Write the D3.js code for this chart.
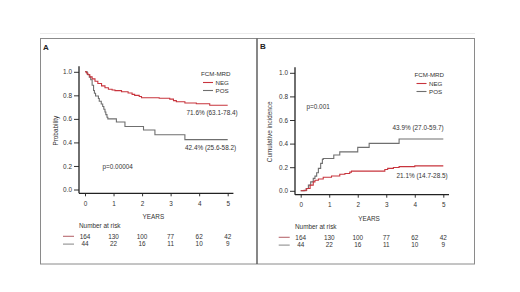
<!DOCTYPE html>
<html>
<head>
<meta charset="utf-8">
<script src="https://cdn.jsdelivr.net/npm/d3@7"></script>
<style>
  body { margin: 0; background: #fff; }
  svg text { font-family: "Liberation Sans", Arial, sans-serif; fill: #333; }
</style>
</head>
<body>
<div id="chart"></div>
<script>
// data
var years = [0, 1, 2, 3, 4, 5];
var yTicks = [0, 0.2, 0.4, 0.6, 0.8, 1.0];
var riskNeg = [164, 130, 100, 77, 62, 42];
var riskPos = [44, 22, 16, 11, 10, 9];

// panel A: probability (KM), [years, value]
var survNeg = [
  [0, 1], [0.05, 0.99], [0.1, 0.975], [0.17, 0.957], [0.25, 0.94], [0.35, 0.92],
  [0.45, 0.9], [0.58, 0.88], [0.7, 0.865], [0.82, 0.852], [0.95, 0.845], [1.05, 0.84],
  [1.28, 0.83], [1.51, 0.82], [1.65, 0.808], [1.74, 0.8], [1.9, 0.79], [1.98, 0.78],
  [2.6, 0.775], [2.97, 0.768], [3.1, 0.755], [3.2, 0.745], [3.5, 0.735], [3.9, 0.728],
  [4.37, 0.716], [5.0, 0.716]
];
var survPos = [
  [0, 1], [0.08, 0.977], [0.15, 0.955], [0.2, 0.932], [0.25, 0.886], [0.3, 0.841],
  [0.33, 0.818], [0.37, 0.795], [0.47, 0.773], [0.5, 0.75], [0.57, 0.727], [0.62, 0.705],
  [0.66, 0.682], [0.7, 0.659], [0.73, 0.636], [0.77, 0.614], [0.8, 0.6], [1.1, 0.573],
  [1.4, 0.535], [2.05, 0.505], [2.45, 0.465], [3.5, 0.424], [5.0, 0.424]
];

// panel B: cumulative incidence, [years, value]
var cumNeg = [
  [0, 0], [0.12, 0.005], [0.21, 0.02], [0.33, 0.048], [0.44, 0.076], [0.5, 0.09],
  [0.62, 0.1], [0.79, 0.115], [1.08, 0.125], [1.37, 0.14], [1.55, 0.147], [1.72, 0.158],
  [1.78, 0.167], [2.95, 0.18], [3.05, 0.19], [3.25, 0.198], [3.45, 0.205], [4.0, 0.211],
  [5.0, 0.211]
];
var cumPos = [
  [0, 0], [0.19, 0.02], [0.27, 0.048], [0.35, 0.076], [0.44, 0.105], [0.5, 0.124],
  [0.56, 0.153], [0.62, 0.19], [0.7, 0.232], [0.76, 0.266], [0.79, 0.274], [1.16, 0.303],
  [1.37, 0.33], [2.0, 0.368], [2.4, 0.402], [3.45, 0.439], [5.0, 0.439]
];

var colNeg = "#c8343d";
var colPos = "#6f6f6f";

var svg = d3
  .select("#chart")
  .append("svg")
  .attr("width", 520)
  .attr("height", 292);

// faint outer line on top, then the two framed panels
svg.append("line")
  .attr("x1", 40).attr("x2", 475).attr("y1", 33.5).attr("y2", 33.5)
  .attr("stroke", "#ececec");

svg.append("rect")
  .attr("x", 40.5).attr("y", 38.5).attr("width", 434).attr("height", 225.5)
  .attr("fill", "none").attr("stroke", "#8a8a8a");

svg.append("line")
  .attr("x1", 257).attr("x2", 257).attr("y1", 38.5).attr("y2", 264)
  .attr("stroke", "#555").attr("stroke-width", 1.4);

/**
 * draws one panel: axes, curves, legend, labels and the number-at-risk table
 */
function DrawPanel(p) {
  var g = svg.append("g");
  var xScale = d3.scaleLinear().domain([0, 5]).range([p.x0, p.x1]);
  var yScale = d3.scaleLinear().domain([0, 1]).range([p.y0, p.y1]);

  g.append("text")
    .attr("x", p.letterX).attr("y", p.letterY)
    .style("font-size", "8px").style("font-weight", "bold")
    .style("fill", "#222")
    .text(p.letter);

  // y axis
  var yAxis = g.append("g")
    .attr("transform", "translate(" + p.axisX + ",0)")
    .call(d3.axisLeft(yScale).tickValues(yTicks).tickFormat(d3.format(".1f")).tickSize(5).tickPadding(2));
  yAxis.select(".domain").remove();
  g.append("line")
    .attr("x1", p.axisX).attr("x2", p.axisX)
    .attr("y1", p.y1 - 5.5).attr("y2", p.axisY)
    .attr("stroke", "#222").attr("stroke-width", 1.3);

  // x axis
  var xAxis = g.append("g")
    .attr("transform", "translate(0," + p.axisY + ")")
    .call(d3.axisBottom(xScale).tickValues(years).tickFormat(d3.format("d")).tickSize(3).tickPadding(5));
  xAxis.select(".domain").remove();
  g.append("line")
    .attr("x1", p.axisX).attr("x2", xScale(5.2))
    .attr("y1", p.axisY).attr("y2", p.axisY)
    .attr("stroke", "#222").attr("stroke-width", 1.3);

  g.selectAll(".tick line").attr("stroke", "#333");
  g.selectAll(".tick text")
    .style("font-size", "6.4px")
    .style("font-family", "'Liberation Sans', Arial, sans-serif")
    .attr("fill", "#333");

  g.append("text")
    .attr("transform", "translate(" + p.yLabelX + "," + (p.y0 + p.y1) / 2 + ")rotate(-90)")
    .attr("text-anchor", "middle").attr("dy", "0.35em")
    .style("font-size", "6.4px")
    .text(p.yLabel);

  g.append("text")
    .attr("x", xScale(2.5) - 3).attr("y", p.axisY + 26)
    .attr("text-anchor", "middle")
    .style("font-size", "6.4px")
    .text("YEARS");

  // curves
  var line = d3.line()
    .x(function (d) { return xScale(d[0]); })
    .y(function (d) { return yScale(d[1]); })
    .curve(d3.curveStepAfter);

  g.append("path").datum(p.pos)
    .attr("d", line).attr("fill", "none")
    .attr("stroke", colPos).attr("stroke-width", 1.1);
  g.append("path").datum(p.neg)
    .attr("d", line).attr("fill", "none")
    .attr("stroke", colNeg).attr("stroke-width", 1.1);

  // legend
  g.append("text")
    .attr("x", p.legX - 2).attr("y", p.legY).attr("dy", "0.35em")
    .style("font-size", "6.2px")
    .text("FCM-MRD");
  [["NEG", colNeg], ["POS", colPos]].forEach(function (d, i) {
    var yy = p.legY + 9 + i * 8;
    g.append("line")
      .attr("x1", p.legX).attr("x2", p.legX + 10)
      .attr("y1", yy).attr("y2", yy)
      .attr("stroke", d[1]).attr("stroke-width", 1.1);
    g.append("text")
      .attr("x", p.legX + 12.5).attr("y", yy).attr("dy", "0.35em")
      .style("font-size", "6.2px")
      .text(d[0]);
  });

  // annotations
  p.notes.forEach(function (n) {
    g.append("text")
      .attr("x", n.x).attr("y", n.y).attr("dy", "0.35em")
      .style("font-size", "6.4px")
      .text(n.text);
  });

  // number at risk
  g.append("text")
    .attr("x", p.axisX).attr("y", p.riskY - 10.5).attr("dy", "0.35em")
    .style("font-size", "6.4px")
    .text("Number at risk");
  [[riskNeg, "#b86a70"], [riskPos, "#8f8f8f"]].forEach(function (row, i) {
    var yy = p.riskY + i * 7.8;
    g.append("line")
      .attr("x1", xScale(0) - 22).attr("x2", xScale(0) - 11)
      .attr("y1", yy).attr("y2", yy)
      .attr("stroke", row[1]).attr("stroke-width", 1.1);
    g.selectAll(null)
      .data(row[0])
      .enter()
      .append("text")
      .attr("x", function (d, j) { return xScale(years[j]); })
      .attr("y", yy).attr("dy", "0.35em")
      .attr("text-anchor", "middle")
      .style("font-size", "6.4px")
      .text(function (d) { return d; });
  });
}

DrawPanel({
  letter: "A", letterX: 43, letterY: 50,
  x0: 85, x1: 227.7, y0: 189.5, y1: 71.8,
  axisX: 79, axisY: 193.3, yLabelX: 56, yLabel: "Probability",
  legX: 203, legY: 73.5, riskY: 236.3,
  neg: survNeg, pos: survPos,
  notes: [
    { x: 186.5, y: 112.8, text: "71.6% (63.1-78.4)" },
    { x: 185, y: 147.3, text: "42.4% (25.6-58.2)" },
    { x: 102.5, y: 166.7, text: "p=0.00004" }
  ]
});

DrawPanel({
  letter: "B", letterX: 260, letterY: 49,
  x0: 300.7, x1: 443.3, y0: 190.8, y1: 72.8,
  axisX: 295, axisY: 194.7, yLabelX: 270, yLabel: "Cumulative incidence",
  legX: 416.5, legY: 74.5, riskY: 237.3,
  neg: cumNeg, pos: cumPos,
  notes: [
    { x: 392.5, y: 127.3, text: "43.9% (27.0-59.7)" },
    { x: 396.5, y: 176, text: "21.1% (14.7-28.5)" },
    { x: 306.5, y: 106.7, text: "p=0.001" }
  ]
});
</script>
</body>
</html>
